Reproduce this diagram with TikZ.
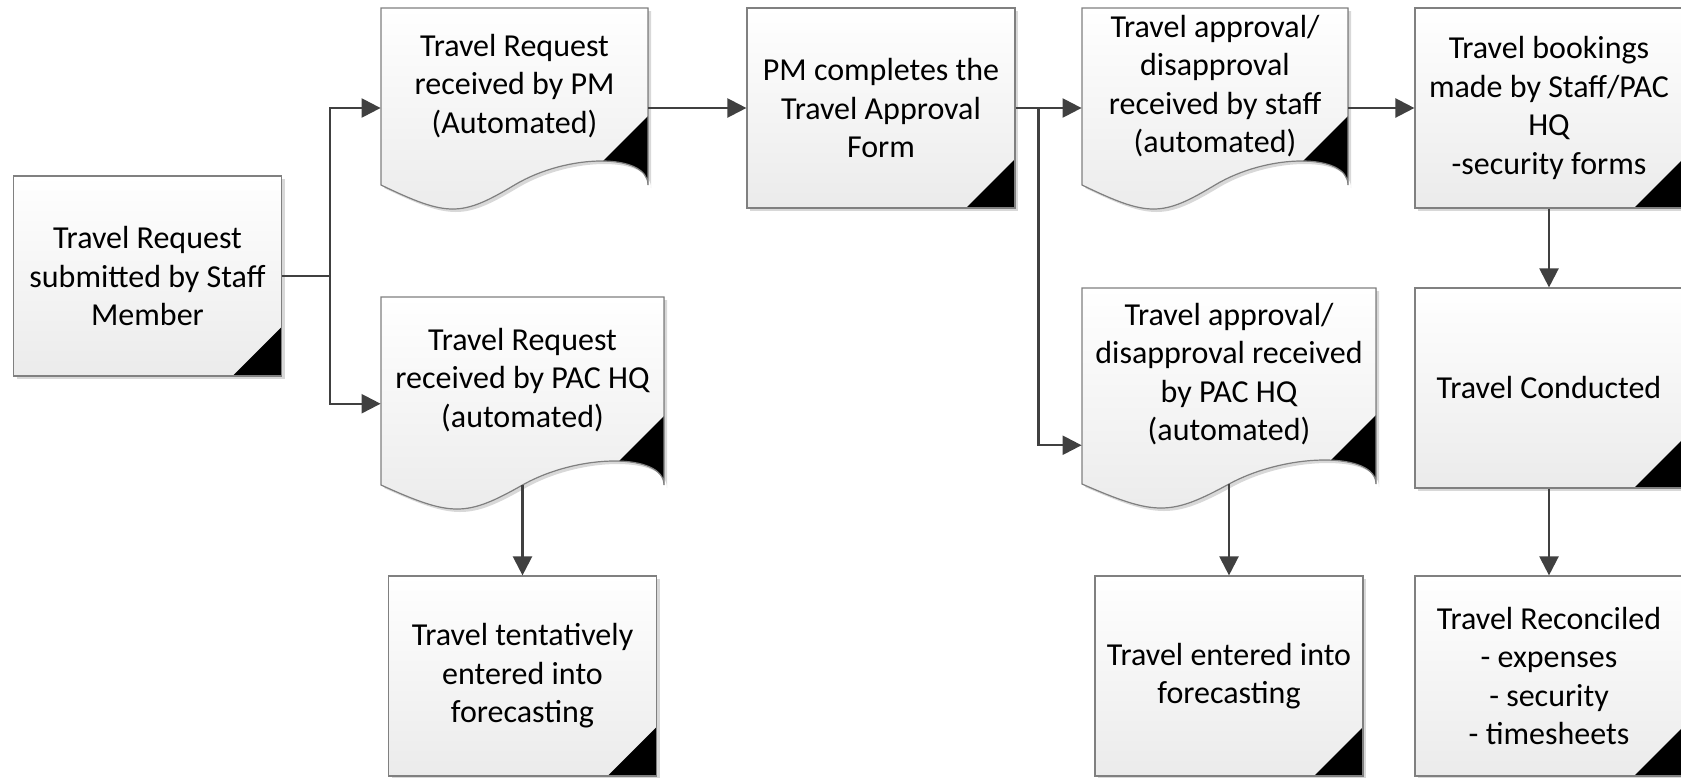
\documentclass[tikz,border=0pt]{standalone}
\usepackage{fontspec}
\setmainfont{Carlito}
\usetikzlibrary{arrows.meta,shadows}

\definecolor{boxline}{HTML}{808080}
\definecolor{boxgray}{HTML}{EBEBEB}
\definecolor{flowline}{HTML}{404040}

\tikzset{
	x=0.5pt,y=-0.5pt,
	flow/.style={draw=flowline,line width=1.15pt,-{Triangle[length=9.5pt,width=9.5pt]}},
	boxshadow/.style={drop shadow={shadow xshift=1.5pt,shadow yshift=-1.5pt,fill=black!30,opacity=.5}},
	procbox/.style={draw=boxline,line width=0.6pt,top color=white,bottom color=boxgray,boxshadow,
		minimum width=134pt,minimum height=100pt,align=center,inner sep=0pt,
		path picture={\fill[black] (path picture bounding box.south east) -- ++(-24.5pt,0) -- ++(24.5pt,24.5pt) -- cycle;}},
	docfill/.style={top color=white,bottom color=boxgray,boxshadow},
	docline/.style={draw=boxline,line width=0.6pt},
	doctext/.style={align=center,inner sep=0pt}
}

\newcommand{\docpath}[4]{(#1,#2) -- (#1+#3,#2) -- (#1+#3,#2+#4) .. controls (#1+#3,#2+#4-32) and (#1+0.7*#3,#2+#4-32) .. (#1+0.5*#3,#2+#4) .. controls (#1+0.3*#3,#2+#4+32) and (#1+0.25*#3,#2+#4+32) .. (#1,#2+#4) -- cycle}

\newcommand{\travdoc}[6]{%
	\fill[docfill] \docpath{#2}{#3}{#4}{#5};
	\begin{scope}
		\clip \docpath{#2}{#3}{#4}{#5};
		\fill (#2+#4,#3+#5-69) -- ++(-130,130) -- ++(130,0) -- cycle;
	\end{scope}
	\draw[docline] \docpath{#2}{#3}{#4}{#5};
	\node[doctext,minimum width=#4*0.5pt,minimum height=#5*0.56pt] (#1) at (#2+#4/2,#3+0.44*#5) {#6};
}

\begin{document}
\begin{tikzpicture}[font=\fontsize{16pt}{19.25pt}\selectfont]
		\useasboundingbox (0,0) rectangle (1681,777);
		\node[procbox] (submit) at (147.5,276) {Travel Request\\submitted by Staff\\Member};
		\travdoc{rcvPM}{381}{8}{267}{177}{Travel Request\\received by PM\\(Automated)}
		\travdoc{rcvHQ}{381}{297}{283}{188}{Travel Request\\received by PAC HQ\\(automated)}
		\node[procbox] (tentative) at (522.5,676) {Travel tentatively\\entered into\\forecasting};
		\node[procbox] (approve) at (881,108) {PM completes the\\Travel Approval\\Form};
		\travdoc{apvStaff}{1082}{8}{266}{177}{Travel approval/\\disapproval\\received by staff\\(automated)}
		\travdoc{apvHQ}{1082}{288}{294}{196}{Travel approval/\\disapproval received\\by PAC HQ\\(automated)}
		\node[procbox] (forecast) at (1229,676) {Travel entered into\\forecasting};
		\node[procbox] (book) at (1549,108) {Travel bookings\\made by Staff/PAC\\HQ\\-security forms};
		\node[procbox] (conduct) at (1549,388) {Travel Conducted};
		\node[procbox] (reconcile) at (1549,676) {Travel Reconciled\\- expenses\\- security\\- timesheets};
		\draw[flow] (submit.east) -- ++(48,0) coordinate (split1) |- (rcvPM.west |- approve.west);
		\draw[flow] (split1) |- ([yshift=-12pt]rcvHQ.west);
		\draw[flow] (rcvPM.east |- approve.west) -- (approve.west);
		\draw[flow] (approve.east) -- ++(23,0) coordinate (split2) -- (apvStaff.west |- approve.east);
		\draw[flow] (split2) |- ([yshift=-35.5pt]apvHQ.west);
		\draw[flow] (apvStaff.east |- book.west) -- (book.west);
		\draw[flow] (rcvHQ.south) -- (tentative.north);
		\draw[flow] (apvHQ.south) -- (forecast.north);
		\draw[flow] (book.south) -- (conduct.north);
		\draw[flow] (conduct.south) -- (reconcile.north);
	\end{tikzpicture}
\end{document}
